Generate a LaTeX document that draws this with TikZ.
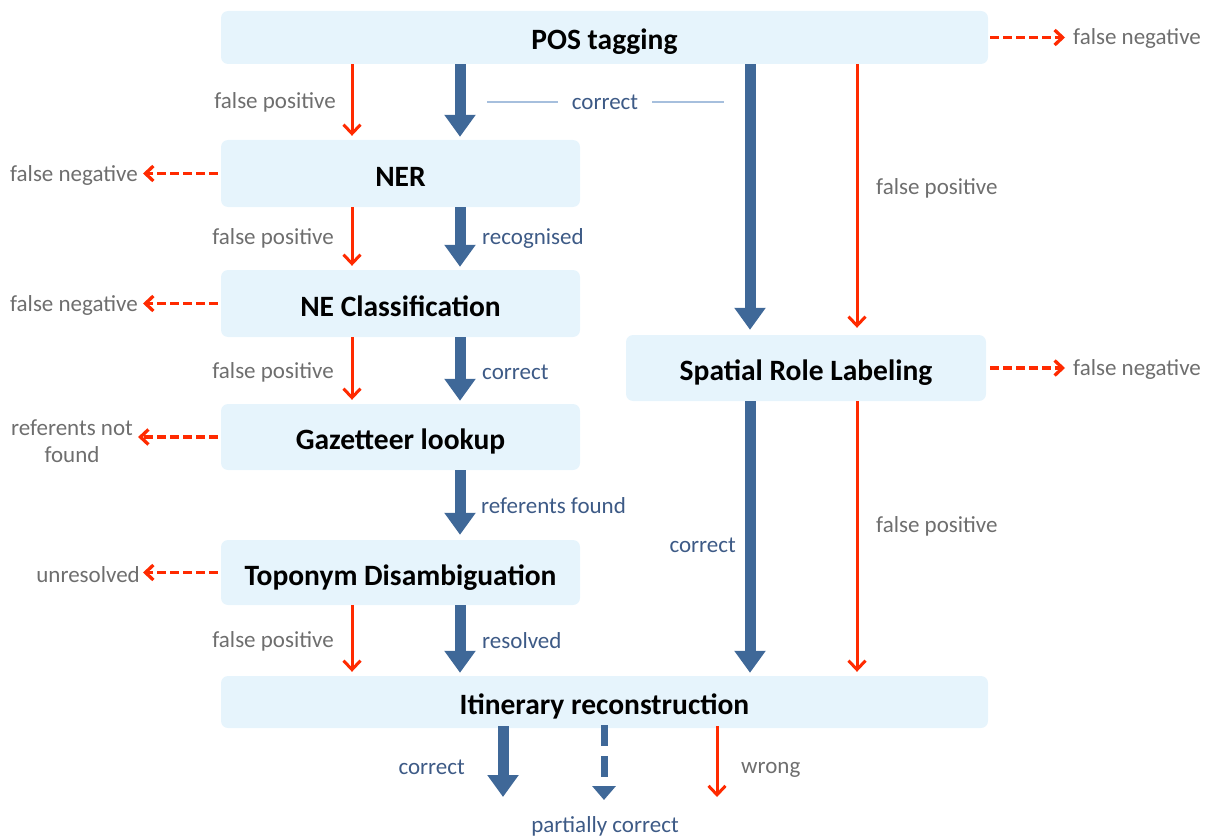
\documentclass[tikz,border=0pt]{standalone}
\usepackage{fontspec}
\setmainfont{Carlito}
\usetikzlibrary{arrows.meta}
\definecolor{boxfill}{HTML}{E6F4FC}
\definecolor{arrowblue}{HTML}{3F6898}
\definecolor{arrowred}{HTML}{FF2A00}
\definecolor{graytxt}{HTML}{6E6E6E}
\definecolor{bluetxt}{HTML}{3D5A86}
\definecolor{thinblue}{HTML}{A6BFDD}
\begin{document}
\begin{tikzpicture}[x=1pt,y=-1pt,
  box/.style={rounded corners=7pt, fill=boxfill, draw=none, inner sep=0pt,
    text height=25pt, text depth=0pt,
    font=\fontsize{29.5}{36}\selectfont\bfseries, text=black},
  lbl/.style={inner sep=0pt, font=\fontsize{23}{27}\selectfont, text=graytxt},
  blbl/.style={lbl, text=bluetxt},
  bluearrow/.style={draw=arrowblue, line width=11pt, -{Triangle[width=30pt,length=22pt]}, shorten >=3pt},
  bluedash/.style={draw=arrowblue, line width=7pt, dash pattern=on 21pt off 10pt, -{Triangle[width=23pt,length=14pt]}},
  redarrow/.style={draw=arrowred, line width=3pt, -{Straight Barb[width=17pt,length=9pt]}, shorten >=4pt},
  reddash/.style={draw=arrowred, line width=3.3pt, dash pattern=on 8.5pt off 4.5pt, -{Straight Barb[width=15pt,length=8pt]}},
  thinline/.style={draw=thinblue, line width=1.3pt}
]
\useasboundingbox (0,0) rectangle (1213,840);

% boxes
\node[box, minimum width=767pt, minimum height=53pt] (pos) at (604.5,37.5) {POS tagging};
\node[box, minimum width=359pt, minimum height=67pt] (ner) at (400.5,173.5) {NER};
\node[box, minimum width=359pt, minimum height=67pt] (nec) at (400.5,303.5) {NE Classification};
\node[box, minimum width=359pt, minimum height=66pt] (gaz) at (400.5,437) {Gazetteer lookup};
\node[box, minimum width=359pt, minimum height=65pt] (top) at (400.5,572.5) {Toponym Disambiguation};
\node[box, minimum width=360pt, minimum height=66pt] (srl) at (806,368) {Spatial Role Labeling};
\node[box, minimum width=767pt, minimum height=52pt] (itin) at (604.5,702) {Itinerary reconstruction};

% column x positions
\coordinate (xr) at (352,0);
\coordinate (xb) at (460,0);
\coordinate (xb2) at (750,0);
\coordinate (xr2) at (857,0);

% labels
\node[lbl, anchor=east] (l1) at (336,102) {false positive};
\node[blbl] (lc) at (605,102) {correct};
\node[lbl, anchor=west] (fnpos) at (1073,38) {false negative};
\node[lbl, anchor=west] (l2) at (876,188) {false positive};
\node[lbl, anchor=east] (fnner) at (138,175) {false negative};
\node[lbl, anchor=east] (l3) at (334,238) {false positive};
\node[blbl, anchor=west] (l4) at (482,238) {recognised};
\node[lbl, anchor=east] (fnnec) at (138,305) {false negative};
\node[lbl, anchor=east] (l5) at (334,372) {false positive};
\node[blbl, anchor=west] (l6) at (482,372) {correct};
\node[lbl, align=center, font=\fontsize{23}{27}\selectfont] (rnf) at (72,441) {referents not\\found};
\node[blbl, anchor=west] (l7) at (481,506) {referents found};
\node[lbl, anchor=east] (unres) at (140,575) {unresolved};
\node[lbl, anchor=east] (l8) at (334,641) {false positive};
\node[blbl, anchor=west] (l9) at (482,641) {resolved};
\node[blbl, anchor=east] (l10) at (736,545) {correct};
\node[lbl, anchor=west] (l11) at (876,526) {false positive};
\node[lbl, anchor=west] (fnsrl) at (1073,369) {false negative};
\node[blbl, anchor=east] (l12) at (465,767) {correct};
\node[lbl, anchor=west] (l13) at (741,770) {wrong};
\node[blbl] (l14) at (605,826) {partially correct};

% thin lines around "correct"
\coordinate (tl1) at (487,102);
\coordinate (tl2) at (724,102);
\draw[thinline] (tl1) -- ([xshift=-14pt]lc.west |- tl1);
\draw[thinline] ([xshift=14pt]lc.east |- tl2) -- (tl2);

% POS outgoing
\draw[redarrow] (pos.south -| xr) -- (ner.north -| xr);
\draw[bluearrow] (pos.south -| xb) -- (ner.north -| xb);
\draw[bluearrow, shorten >=5pt] (pos.south -| xb2) -- (srl.north -| xb2);
\draw[redarrow, shorten >=7pt] (pos.south -| xr2) -- (srl.north -| xr2);
\draw[reddash, shorten <=2pt, shorten >=8pt] (pos.east) -- (pos.east -| fnpos.west);

% NER
\draw[reddash, shorten <=3pt, shorten >=5pt] (ner.west) -- (ner.west -| fnner.east);
\draw[redarrow] (ner.south -| xr) -- (nec.north -| xr);
\draw[bluearrow] (ner.south -| xb) -- (nec.north -| xb);

% NEC
\draw[reddash, shorten <=3pt, shorten >=5pt] (nec.west) -- (nec.west -| fnnec.east);
\draw[redarrow] (nec.south -| xr) -- (gaz.north -| xr);
\draw[bluearrow] (nec.south -| xb) -- (gaz.north -| xb);

% Gazetteer
\draw[reddash, shorten <=3pt, shorten >=5pt] (gaz.west) -- (gaz.west -| rnf.east);
\draw[bluearrow, shorten >=5pt] (gaz.south -| xb) -- (top.north -| xb);

% Toponym
\draw[reddash, shorten <=3pt, shorten >=3pt] (top.west) -- (top.west -| unres.east);
\draw[redarrow] (top.south -| xr) -- (itin.north -| xr);
\draw[bluearrow] (top.south -| xb) -- (itin.north -| xb);

% SRL
\draw[reddash, shorten <=4pt, shorten >=8pt] (srl.east) -- (srl.east -| fnsrl.west);
\draw[bluearrow] (srl.south -| xb2) -- (itin.north -| xb2);
\draw[redarrow] (srl.south -| xr2) -- (itin.north -| xr2);

% Itinerary outputs
\coordinate (o1) at (503,797);
\coordinate (o2) at (604,800);
\coordinate (o3) at (717,797);
\draw[bluearrow, shorten >=0pt] ([yshift=2pt]itin.south -| o1) -- (o1);
\draw[bluedash] ([yshift=3pt]itin.south -| o2) -- (o2);
\draw[redarrow, shorten >=0pt] ([yshift=2pt]itin.south -| o3) -- (o3);
\end{tikzpicture}
\end{document}
